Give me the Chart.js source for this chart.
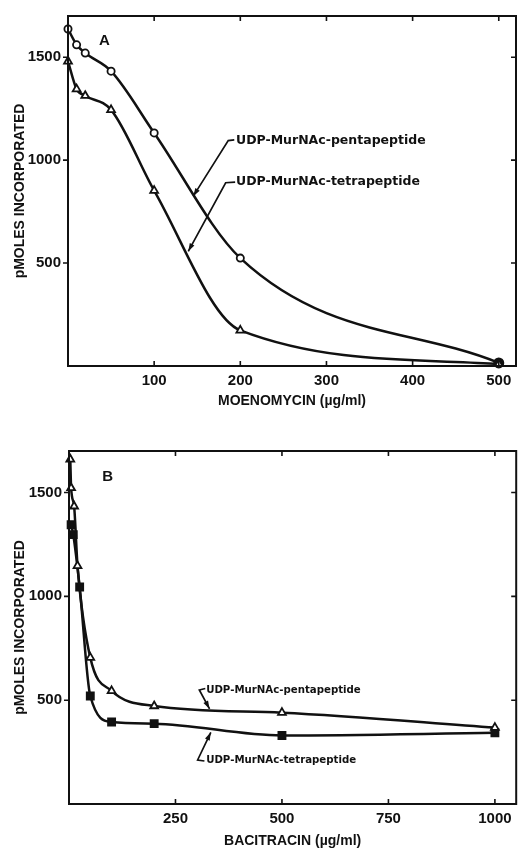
<!DOCTYPE html>
<html>
<head>
<title>Moenomycin and bacitracin inhibition</title>
<script src="https://cdn.jsdelivr.net/npm/chart.js"></script>
<style>
  body { margin: 0; background: #fff; }
  .panel { position: absolute; left: 0; width: 523px; }
  #wrapA { top: 0; height: 430px; }
  #wrapB { top: 430px; height: 421px; }
</style>
</head>
<body>
<div class="panel" id="wrapA"><canvas id="chartA"></canvas></div>
<div class="panel" id="wrapB"><canvas id="chartB"></canvas></div>
<script>
// panel A: moenomycin (ug/ml) vs pmoles incorporated
var moenoDose = [0, 10, 20, 50, 100, 200, 500];
var moenoPenta = [1637, 1560, 1520, 1432, 1132, 524, 15];
var moenoTetra = [1480, 1345, 1313, 1244, 852, 173, 10];
var moenoTicks = [100, 200, 300, 400, 500];

// panel B: bacitracin (ug/ml)
var baciPentaDose = [3, 5, 12, 20, 50, 100, 200, 500, 1000];
var baciPenta = [1660, 1522, 1434, 1147, 705, 545, 472, 440, 368];
var baciTetraDose = [5, 10, 25, 50, 100, 200, 500, 1000];
var baciTetra = [1345, 1297, 1045, 520, 395, 387, 330, 343];
var baciTicks = [250, 500, 750, 1000];

var pmolTicks = [500, 1000, 1500];

var INK = '#111';
var FONT = "'Liberation Sans', Arial, sans-serif";
var LABELFONT = "'DejaVu Sans', sans-serif";

function pts(xs, ys) {
  return xs.map(function (x, i) { return { x: x, y: ys[i] }; });
}

// frame + tick marks (inward on bottom/top/right, outward on left)
var frameTicks = {
  id: 'frameTicks',
  afterDatasetsDraw: function (chart) {
    var ctx = chart.ctx, a = chart.chartArea;
    var xs = chart.scales.x, ys = chart.scales.y;
    ctx.save();
    ctx.strokeStyle = INK;
    ctx.lineWidth = 2;
    ctx.strokeRect(a.left, a.top, a.right - a.left, a.bottom - a.top);
    ctx.lineWidth = 1.6;
    ctx.beginPath();
    chart.options.plugins.frameTicks.xTicks.forEach(function (v) {
      var px = xs.getPixelForValue(v);
      ctx.moveTo(px, a.bottom); ctx.lineTo(px, a.bottom - 5);
      ctx.moveTo(px, a.top); ctx.lineTo(px, a.top + 5);
    });
    pmolTicks.forEach(function (v) {
      var py = ys.getPixelForValue(v);
      ctx.moveTo(a.left - 5, py); ctx.lineTo(a.left, py);
      ctx.moveTo(a.right, py); ctx.lineTo(a.right - 5, py);
    });
    ctx.stroke();
    ctx.restore();
  }
};

// curve labels with leader arrows, placed in data units
var curveLabels = {
  id: 'curveLabels',
  afterDraw: function (chart) {
    var o = chart.options.plugins.curveLabels;
    var ctx = chart.ctx, xs = chart.scales.x, ys = chart.scales.y;
    function P(p) { return [xs.getPixelForValue(p[0]), ys.getPixelForValue(p[1])]; }
    ctx.save();
    ctx.fillStyle = INK;
    ctx.strokeStyle = INK;
    ctx.font = 'bold ' + o.panelSize + 'px ' + FONT;
    ctx.textBaseline = 'middle';
    var pl = P(o.panelAt);
    ctx.fillText(o.panel, pl[0], pl[1]);
    ctx.font = 'bold ' + o.size + 'px ' + LABELFONT;
    o.items.forEach(function (it) {
      var t = P(it.at);
      ctx.fillText(it.text, t[0], t[1]);
      var path = it.path.map(P);
      ctx.lineWidth = 1.7;
      ctx.beginPath();
      ctx.moveTo(path[0][0], path[0][1]);
      for (var i = 1; i < path.length; i++) ctx.lineTo(path[i][0], path[i][1]);
      ctx.stroke();
      var tip = path[path.length - 1], prev = path[path.length - 2];
      var ang = Math.atan2(tip[1] - prev[1], tip[0] - prev[0]);
      ctx.beginPath();
      ctx.moveTo(tip[0], tip[1]);
      ctx.lineTo(tip[0] - 8 * Math.cos(ang) + 2.6 * Math.sin(ang), tip[1] - 8 * Math.sin(ang) - 2.6 * Math.cos(ang));
      ctx.lineTo(tip[0] - 8 * Math.cos(ang) - 2.6 * Math.sin(ang), tip[1] - 8 * Math.sin(ang) + 2.6 * Math.cos(ang));
      ctx.closePath();
      ctx.fill();
    });
    ctx.restore();
  }
};

function plain(v) { return String(v); }

function scales(xMax, xTicks, xTitle, yWidth, xHeight, xTitlePad) {
  var tickFont = { family: FONT, size: 15, weight: 'bold' };
  var titleFont = { family: FONT, size: 14, weight: 'bold' };
  return {
    x: {
      type: 'linear', min: 0, max: xMax,
      afterBuildTicks: function (s) { s.ticks = xTicks.map(function (v) { return { value: v }; }); },
      afterFit: function (s) { s.height = xHeight; },
      grid: { display: false, drawTicks: false },
      border: { display: false },
      ticks: { color: INK, font: tickFont, padding: 6, maxRotation: 0, callback: plain },
      title: { display: true, text: xTitle, color: INK, font: titleFont, padding: { top: 0, bottom: xTitlePad } }
    },
    y: {
      type: 'linear', min: 0, max: 1700,
      afterBuildTicks: function (s) { s.ticks = pmolTicks.map(function (v) { return { value: v }; }); },
      afterFit: function (s) { s.width = yWidth; },
      grid: { display: false, drawTicks: false },
      border: { display: false },
      ticks: { color: INK, font: tickFont, padding: 7, callback: plain },
      title: { display: true, text: 'pMOLES INCORPORATED', color: INK, font: titleFont, padding: { top: 12, bottom: 0 } }
    }
  };
}

function line(data, style, radius, fill) {
  return {
    data: data,
    borderColor: INK,
    borderWidth: 2.5,
    cubicInterpolationMode: 'monotone',
    pointStyle: style,
    pointRadius: radius,
    pointBorderWidth: 1.8,
    pointBorderColor: INK,
    pointBackgroundColor: fill,
    clip: false
  };
}

var lastA = moenoDose.length - 1;
var pentaA = line(pts(moenoDose, moenoPenta), 'circle', 3.6, '#fff');
pentaA.pointBackgroundColor = moenoDose.map(function (d, i) { return i === lastA ? INK : '#fff'; });
pentaA.pointRadius = moenoDose.map(function (d, i) { return i === lastA ? 4.6 : 3.6; });

new Chart(document.getElementById('chartA'), {
  type: 'line',
  data: {
    datasets: [
      line(pts(moenoDose, moenoTetra), 'triangle', 4.5, '#fff'),
      pentaA
    ]
  },
  options: {
    responsive: true, maintainAspectRatio: false, animation: false,
    devicePixelRatio: 1,
    layout: { padding: { top: 7, right: 7, left: 0, bottom: 0 } },
    scales: scales(520, moenoTicks, 'MOENOMYCIN (\u00b5g/ml)', 68, 64, 20),
    plugins: {
      legend: { display: false }, tooltip: { enabled: false },
      frameTicks: { xTicks: moenoTicks },
      curveLabels: {
        panel: 'A', panelAt: [36, 1577], panelSize: 15, size: 12.5,
        items: [
          { text: 'UDP-MurNAc-pentapeptide', at: [195, 1096], path: [[193, 1098], [186, 1095], [145.4, 825]] },
          { text: 'UDP-MurNAc-tetrapeptide', at: [195, 897], path: [[194, 893], [183, 890], [139.6, 557]] }
        ]
      }
    }
  },
  plugins: [frameTicks, curveLabels]
});

new Chart(document.getElementById('chartB'), {
  type: 'line',
  data: {
    datasets: [
      line(pts(baciPentaDose, baciPenta), 'triangle', 4.5, '#fff'),
      line(pts(baciTetraDose, baciTetra), 'rect', 5, INK)
    ]
  },
  options: {
    responsive: true, maintainAspectRatio: false, animation: false,
    devicePixelRatio: 1,
    layout: { padding: { top: 21, right: 5, left: 0, bottom: 0 } },
    scales: scales(1050, baciTicks, 'BACITRACIN (\u00b5g/ml)', 69, 47, 1),
    plugins: {
      legend: { display: false }, tooltip: { enabled: false },
      frameTicks: { xTicks: baciTicks },
      curveLabels: {
        panel: 'B', panelAt: [78, 1575], panelSize: 15, size: 10.2,
        items: [
          { text: 'UDP-MurNAc-pentapeptide', at: [322, 547], path: [[320, 556], [306, 549], [330, 458]] },
          { text: 'UDP-MurNAc-tetrapeptide', at: [322, 209], path: [[318, 207], [302, 212], [333, 345]] }
        ]
      }
    }
  },
  plugins: [frameTicks, curveLabels]
});
</script>
</body>
</html>
